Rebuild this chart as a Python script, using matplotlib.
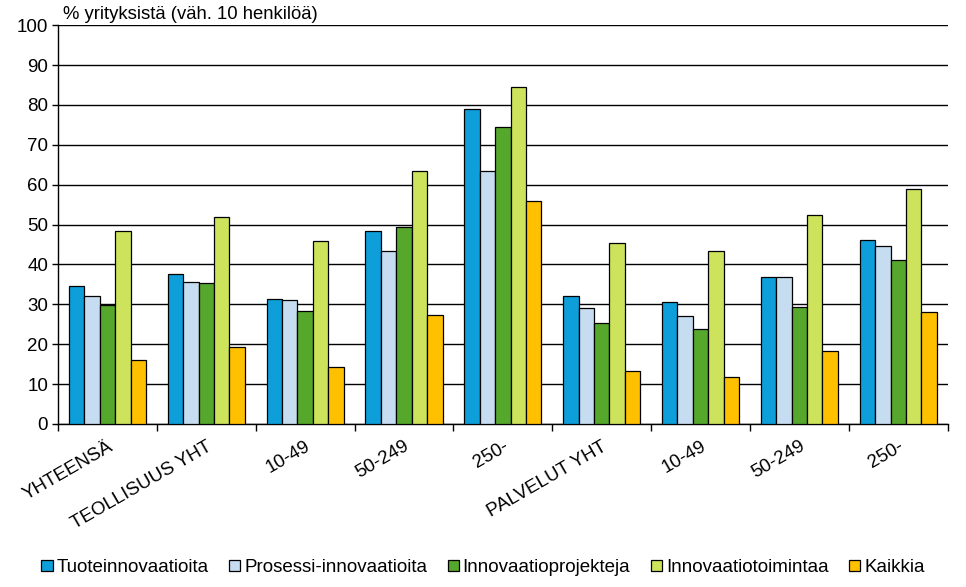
import matplotlib
matplotlib.use("Agg")
import matplotlib.pyplot as plt
import numpy as np

plt.rcParams['font.family'] = ['Liberation Sans', 'DejaVu Sans']

categories = ["YHTEENSÄ", "TEOLLISUUS YHT", "10-49", "50-249", "250-",
              "PALVELUT YHT", "10-49", "50-249", "250-"]
series_names = ["Tuoteinnovaatioita", "Prosessi-innovaatioita", "Innovaatioprojekteja",
                "Innovaatiotoimintaa", "Kaikkia"]
tuote = [34.5, 37.5, 31.3, 48.3, 78.9, 32.0, 30.5, 36.8, 46.2]
prosessi = [32.0, 35.6, 31.0, 43.3, 63.4, 29.0, 27.0, 36.8, 44.6]
projektit = [29.8, 35.3, 28.3, 49.3, 74.4, 25.3, 23.8, 29.3, 41.0]
toiminta = [48.3, 51.8, 46.0, 63.4, 84.6, 45.3, 43.3, 52.3, 58.9]
kaikki = [16.0, 19.3, 14.3, 27.3, 56.0, 13.3, 11.8, 18.3, 28.0]
values = [tuote, prosessi, projektit, toiminta, kaikki]
colors = ["#0E9FDB", "#C6DCF1", "#55A82C", "#CDE35B", "#FFC000"]

fig = plt.figure(figsize=(9.66, 5.87), dpi=100)
ax = fig.add_axes([0.060, 0.2777, 0.921, 0.6795])

x = np.arange(len(categories))
w = 0.156
for i, (vals, name, c) in enumerate(zip(values, series_names, colors)):
    ax.bar(x + (i - 2) * w, vals, width=w, color=c, edgecolor="black",
           linewidth=0.9, label=name, zorder=3)

ax.set_ylim(0, 100)
ax.set_xlim(-0.5, len(categories) - 0.5)
ax.set_yticks(np.arange(0, 101, 10))
ax.yaxis.grid(True, color="black", linewidth=1.0, zorder=0)
ax.set_axisbelow(True)
ax.tick_params(axis="y", labelsize=13.5, length=4, width=1, pad=3)

# category ticks at group boundaries, labels at centres
ax.set_xticks(np.arange(-0.5, len(categories) + 0.5, 1))
ax.set_xticklabels([])
ax.set_xticks(x, minor=True)
ax.set_xticklabels(categories, minor=True, rotation=30, ha="right",
                   rotation_mode="anchor", fontsize=13.5)
ax.tick_params(axis="x", which="major", length=5, width=1)
ax.tick_params(axis="x", which="minor", length=0, pad=10)

for s in ["top", "right"]:
    ax.spines[s].set_visible(False)
ax.spines["left"].set_linewidth(1.0)
ax.spines["bottom"].set_linewidth(1.0)

fig.text(0.065, 0.975, "% yrityksistä (väh. 10 henkilöä)", fontsize=13.3,
         va="center", ha="left")

fig.legend(loc="center", bbox_to_anchor=(0.5, 0.033), ncol=5, frameon=False,
           fontsize=13.5, handlelength=0.6, handleheight=0.6, handletextpad=0.2,
           columnspacing=1.1)

fig.savefig("out.png", dpi=100)
